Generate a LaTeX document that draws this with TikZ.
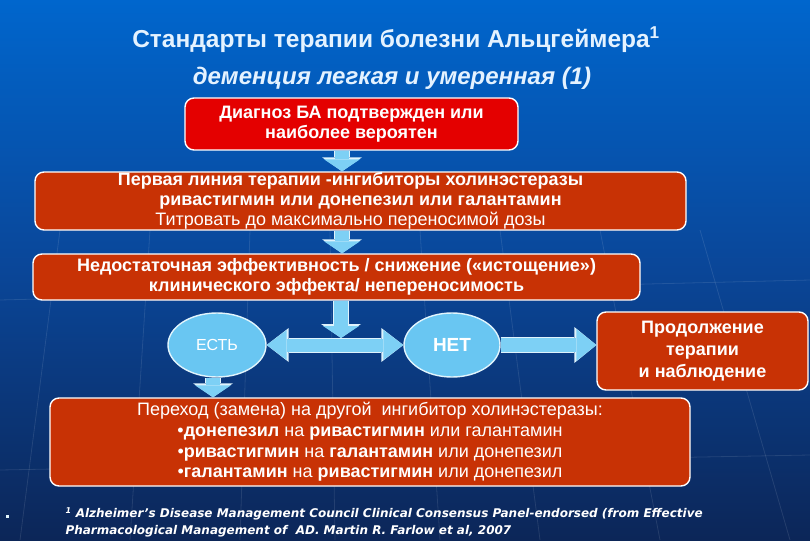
\documentclass[tikz,border=0pt]{standalone}
\usepackage{fontspec}
\setmainfont{Liberation Sans}
\newfontfamily\footfont{DejaVu Sans}
\usetikzlibrary{arrows.meta,shapes.geometric,calc}
\definecolor{bgtop}{RGB}{0,102,205}
\definecolor{bgmid}{RGB}{10,70,152}
\definecolor{bgbot}{RGB}{12,38,88}
\definecolor{titlec}{RGB}{228,242,255}
\definecolor{redbox}{RGB}{228,0,0}
\definecolor{orbox}{RGB}{200,50,5}
\definecolor{arrb}{RGB}{125,208,245}
\definecolor{ellb}{RGB}{105,198,242}
\newcommand\fsz[2]{\fontsize{#1}{#2}\selectfont}
\begin{document}
\begin{tikzpicture}[x=1pt,y=-1pt,
  box/.style={draw=white, line width=1.4pt, rounded corners=9pt, text=white, align=center, inner sep=0pt, font=\fsz{18}{20}},
  oval/.style={ellipse, draw=white!80!ellb, line width=1.4pt, fill=ellb, text=white, inner sep=0pt},
  barrow/.style={draw=arrb, line width=14pt, -{Triangle[width=36pt,length=12pt,line width=0pt]},
     preaction={draw=white!75!arrb, line width=16pt, -{Triangle[width=40pt,length=14pt,line width=0pt]}}},
  darrow/.style={draw=arrb, line width=13pt, {Triangle[width=30pt,length=20pt,line width=0pt]}-{Triangle[width=30pt,length=20pt,line width=0pt]},
     preaction={draw=white!75!arrb, line width=15pt, {Triangle[width=34pt,length=22pt,line width=0pt]}-{Triangle[width=34pt,length=22pt,line width=0pt]}}},
  harrow/.style={draw=arrb, line width=14pt, -{Triangle[width=32pt,length=20pt,line width=0pt]},
     preaction={draw=white!75!arrb, line width=16pt, -{Triangle[width=36pt,length=22pt,line width=0pt]}}},
  ray/.style={draw=white, opacity=0.10, line width=0.8pt}
]
\useasboundingbox (0,0) rectangle (810,540);
\shade[top color=bgtop, bottom color=bgbot, middle color=bgmid, shading angle=0] (0,0) rectangle (810,540);
% faint background rays
\foreach \a/\b in {60/20, 150/130, 250/240, 330/335, 420/440, 500/540, 600/660, 700/790} {
  \draw[ray] (\a,230) -- (\b,540);
}
\draw[ray] (0,300) -- (810,280);
\draw[ray] (0,470) -- (810,455);

% titles
\node[text=titlec, font=\fsz{24.5}{28}\bfseries] (title) at (396,40) {Стандарты терапии болезни Альцгеймера\textsuperscript{1}};
\node[text=titlec, font=\fsz{24}{28}\bfseries\itshape] (sub) at (392,78) {деменция легкая и умеренная (1)};

% boxes
\node[box, fill=redbox, minimum width=333pt, minimum height=52pt] (b1) at (351.5,124)
  {\bfseries Диагноз БА подтвержден или\\ \bfseries наиболее вероятен};
\node[box, fill=orbox, minimum width=651pt, minimum height=58pt] (b2) at (360.5,201)
  {\bfseries Первая линия терапии -ингибиторы холинэстеразы\hspace*{20pt}\\
   \bfseries ривастигмин или донепезил или галантамин\hspace*{20pt}\\
   Титровать до максимально переносимой дозы\hspace*{20pt}};
\node[box, fill=orbox, minimum width=607pt, minimum height=46pt] (b3) at (336.5,277)
  {\bfseries Недостаточная эффективность / снижение («истощение»)\\
   \bfseries клинического эффекта/ непереносимость};
\node[oval, minimum width=98pt, minimum height=64pt, font=\fsz{16}{18}] (e1) at (217,345) {ЕСТЬ};
\node[oval, minimum width=96pt, minimum height=64pt, font=\fsz{19}{22}\bfseries] (e2) at (452,345) {НЕТ};
\node[box, fill=orbox, minimum width=211pt, minimum height=78pt, font=\fsz{18}{22}\bfseries] (prod) at (702.5,351)
  {Продолжение\\терапии\\и наблюдение};
\node[box, fill=orbox, minimum width=640pt, minimum height=88pt, font=\fsz{18}{20.7}] (b4) at (370,442)
  {Переход (замена) на другой\ \ ингибитор холинэстеразы:\\
   •\textbf{донепезил} на \textbf{ривастигмин} или галантамин\\
   •\textbf{ривастигмин} на \textbf{галантамин} или донепезил\\
   •\textbf{галантамин} на \textbf{ривастигмин} или донепезил};

% connectors
\draw[barrow] ([xshift=-9.5pt]b1.south) -- ([xshift=-9.5pt]b1.south |- b2.north);
\draw[barrow] ([xshift=-18.5pt]b2.south) -- ([xshift=-18.5pt]b2.south |- b3.north);
\draw[darrow] (e1.east) -- (e2.west);
\coordinate (midtop) at ([xshift=4.5pt]b3.south |- 0,338);
\draw[barrow] ([xshift=4.5pt]b3.south) -- (midtop);
\draw[harrow] (e2.east) -- (e2.east -| prod.west);
\draw[barrow] ([xshift=-4pt]e1.south) -- ([xshift=-4pt]e1.south |- b4.north);

% footnote
\node[fill=white!80!ellb, minimum size=3pt, inner sep=0pt] (bul) at (7,516) {};
\node[anchor=north west, text=white, align=left, font=\footfont\fsz{12}{17}\bfseries\itshape] (foot) at (62,504)
  {\textsuperscript{1} Alzheimer’s Disease Management Council Clinical Consensus Panel-endorsed (from Effective\\
   Pharmacological Management of\ \ AD. Martin R. Farlow et al, 2007};
\end{tikzpicture}
\end{document}
